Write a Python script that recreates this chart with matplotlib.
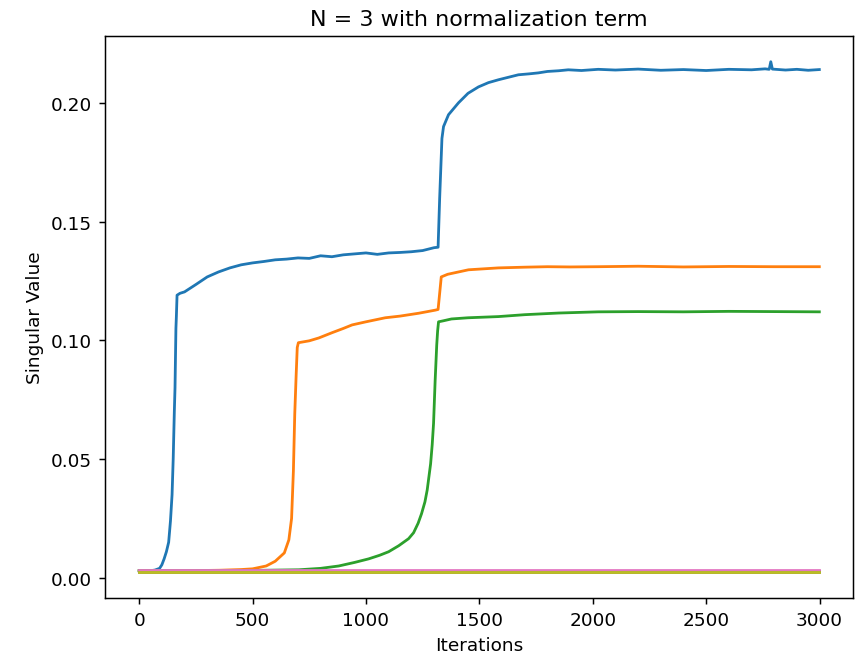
import matplotlib
matplotlib.use('Agg')
import matplotlib.pyplot as plt

# Valores singulares (iteración, valor)
blue_it = [0, 50, 70, 90, 100, 110, 120, 130, 138, 145, 150, 155, 158, 162, 164, 167, 180,
           200, 250, 300, 350, 400, 450, 500,
           550, 600, 650, 700, 750, 800, 850, 900, 950, 1000, 1050, 1100, 1150, 1200,
           1250, 1300, 1318, 1325, 1335, 1342, 1364, 1408, 1450, 1496, 1540, 1584, 1630,
           1672, 1720, 1760, 1800, 1850, 1892, 1950, 2024, 2100, 2200, 2300, 2400, 2500,
           2600, 2700, 2760, 2778, 2785, 2792, 2850, 2900, 2950, 2999]
blue_val = [0.003, 0.003, 0.0033, 0.004, 0.0055, 0.008, 0.011, 0.015, 0.024, 0.035, 0.05,
            0.07, 0.08, 0.105, 0.11, 0.119, 0.1198, 0.1204, 0.1235,
            0.1267, 0.1288, 0.1305, 0.1318, 0.1326, 0.1332, 0.1339, 0.1342, 0.1347, 0.1345,
            0.1356, 0.1352, 0.136, 0.1364, 0.1368, 0.1362, 0.1368, 0.137, 0.1373, 0.1378,
            0.139, 0.1392, 0.16, 0.185, 0.19, 0.195, 0.2, 0.204, 0.2067, 0.2085, 0.2097,
            0.2108, 0.2118, 0.2122, 0.2126, 0.2132, 0.2135, 0.2139, 0.2136, 0.2141, 0.2138,
            0.2142, 0.2137, 0.214, 0.2136, 0.2141, 0.2139, 0.2143, 0.2141, 0.2173, 0.2142,
            0.2138, 0.2141, 0.2137, 0.214]

orange_it = [0, 200, 352, 450, 500, 560, 600, 640, 660, 672, 680, 686, 692, 697, 702, 750,
             792, 850, 900, 939, 1000, 1085, 1150, 1232, 1305, 1318, 1332, 1360, 1452, 1584,
             1700, 1800, 1900, 2024, 2200, 2400, 2600, 2800, 2999]
orange_val = [0.003, 0.003, 0.0032, 0.0035, 0.0038, 0.005, 0.007, 0.0105, 0.016, 0.025,
              0.045, 0.069, 0.085, 0.097, 0.099, 0.0998, 0.101, 0.1032, 0.105, 0.1065,
              0.1078, 0.1095, 0.1102, 0.1114, 0.1127, 0.113, 0.1267, 0.1278, 0.1297, 0.1305,
              0.1308, 0.131, 0.1309, 0.131, 0.1312, 0.1309, 0.1311, 0.131, 0.131]

green_it = [0, 400, 704, 800, 880, 950, 1012, 1060, 1100, 1144, 1188, 1210, 1230, 1245,
            1260, 1270, 1285, 1292, 1298, 1305, 1312, 1316, 1320, 1340, 1377, 1450, 1584,
            1700, 1850, 2024, 2200, 2400, 2600, 2800, 2999]
green_val = [0.003, 0.003, 0.0034, 0.004, 0.005, 0.0065, 0.008, 0.0095, 0.011, 0.0135,
             0.0165, 0.019, 0.023, 0.027, 0.032, 0.037, 0.048, 0.056, 0.065, 0.083, 0.098,
             0.104, 0.1078, 0.1082, 0.109, 0.1095, 0.11, 0.1108, 0.1115, 0.112, 0.1121,
             0.112, 0.1122, 0.1121, 0.112]

# Valores singulares pequeños (casi constantes)
small_it = [0, 2999]
small_vals = {
    'tab:red': [0.0028, 0.0028],
    'tab:purple': [0.0027, 0.0027],
    'tab:brown': [0.0027, 0.0027],
    'tab:pink': [0.0031, 0.0031],
    'tab:gray': [0.0025, 0.0025],
    'tab:olive': [0.0023, 0.0023],
}

fig = plt.figure(figsize=(6.4, 4.97), dpi=133.6)
ax = fig.add_axes([0.123, 0.098, 0.875, 0.846])

ax.plot(blue_it, blue_val, color='tab:blue')
ax.plot(orange_it, orange_val, color='tab:orange')
ax.plot(green_it, green_val, color='tab:green')
for c, v in small_vals.items():
    ax.plot(small_it, v, color=c)

ax.set_title('N = 3 with normalization term')
ax.set_xlabel('Iterations')
ax.set_ylabel('Singular Value')

fig.savefig('out.png')
